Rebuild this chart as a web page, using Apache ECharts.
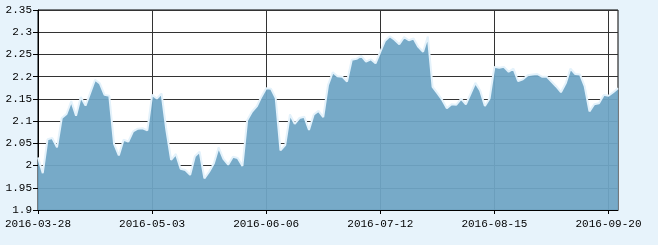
<!DOCTYPE html>
<html>
<head>
<meta charset="utf-8">
<script src="https://cdn.jsdelivr.net/npm/echarts@6/dist/echarts.min.js"></script>
<style>
html,body{margin:0;padding:0;background:#e7f3fb;}
#chart{width:658px;height:245px;}
</style>
</head>
<body>
<div id="chart"></div>
<script>
var dates = [
'2016-03-28','2016-03-29','2016-03-30','2016-03-31','2016-04-01',
'2016-04-05','2016-04-06','2016-04-07','2016-04-08',
'2016-04-11','2016-04-12','2016-04-13','2016-04-14','2016-04-15',
'2016-04-18','2016-04-19','2016-04-20','2016-04-21','2016-04-22',
'2016-04-25','2016-04-26','2016-04-27','2016-04-28','2016-04-29',
'2016-05-03','2016-05-04','2016-05-05','2016-05-06',
'2016-05-09','2016-05-10','2016-05-11','2016-05-12','2016-05-13',
'2016-05-16','2016-05-17','2016-05-18','2016-05-19','2016-05-20',
'2016-05-23','2016-05-24','2016-05-25','2016-05-26','2016-05-27',
'2016-05-30','2016-05-31','2016-06-01','2016-06-02','2016-06-03',
'2016-06-06','2016-06-07','2016-06-08',
'2016-06-13','2016-06-14','2016-06-15','2016-06-16','2016-06-17',
'2016-06-20','2016-06-21','2016-06-22','2016-06-23','2016-06-24',
'2016-06-27','2016-06-28','2016-06-29','2016-06-30','2016-07-01',
'2016-07-04','2016-07-05','2016-07-06','2016-07-07','2016-07-08',
'2016-07-11','2016-07-12','2016-07-13','2016-07-14','2016-07-15',
'2016-07-18','2016-07-19','2016-07-20','2016-07-21','2016-07-22',
'2016-07-25','2016-07-26','2016-07-27','2016-07-28','2016-07-29',
'2016-08-01','2016-08-02','2016-08-03','2016-08-04','2016-08-05',
'2016-08-08','2016-08-09','2016-08-10','2016-08-11','2016-08-12',
'2016-08-15','2016-08-16','2016-08-17','2016-08-18','2016-08-19',
'2016-08-22','2016-08-23','2016-08-24','2016-08-25','2016-08-26',
'2016-08-29','2016-08-30','2016-08-31','2016-09-01','2016-09-02',
'2016-09-05','2016-09-06','2016-09-07','2016-09-08','2016-09-09',
'2016-09-12','2016-09-13','2016-09-14',
'2016-09-19','2016-09-20','2016-09-21','2016-09-22'
];
var values = [
2.018,1.983,2.059,2.062,2.041,
2.107,2.116,2.145,2.112,
2.154,2.135,2.164,2.193,2.185,
2.159,2.157,2.049,2.023,2.058,
2.054,2.077,2.083,2.084,2.079,
2.159,2.151,2.162,2.080,
2.013,2.026,1.993,1.990,1.979,
2.021,2.031,1.971,1.986,2.005,
2.041,2.015,2.002,2.020,2.017,
1.999,2.102,2.121,2.133,2.155,
2.174,2.173,2.152,
2.034,2.046,2.115,2.094,2.107,
2.110,2.080,2.115,2.123,2.109,
2.181,2.210,2.201,2.200,2.189,
2.238,2.240,2.247,2.234,2.239,
2.230,2.256,2.281,2.291,2.283,
2.273,2.289,2.282,2.286,2.267,
2.256,2.290,2.177,2.163,2.148,
2.129,2.138,2.137,2.150,2.138,
2.162,2.186,2.169,2.134,2.151,
2.222,2.220,2.222,2.211,2.218,
2.190,2.194,2.203,2.205,2.206,
2.200,2.200,2.189,2.178,2.165,
2.185,2.218,2.206,2.205,2.178,
2.122,2.138,2.140,
2.159,2.157,2.165,2.174
];
var yMin = 1.9, yMax = 2.35, yStep = 0.05;
var labelEvery = 24;

var chart = echarts.init(document.getElementById('chart'), null, {renderer:'canvas'});
var font = {fontFamily:'Liberation Mono, DejaVu Sans Mono, monospace', fontSize:11, color:'#000'};
chart.setOption({
  backgroundColor:'#e7f3fb',
  animation:false,
  grid:{left:38, right:40, top:10, bottom:35, show:true, backgroundColor:'#fff', borderColor:'#000', borderWidth:1},
  xAxis:{
    type:'category', data:dates, boundaryGap:false,
    axisLine:{lineStyle:{color:'#000', width:1}},
    axisTick:{show:true, interval:labelEvery-1, length:4, lineStyle:{color:'#000'}},
    axisLabel:Object.assign({interval:labelEvery-1, margin:9}, font),
    splitLine:{show:true, interval:labelEvery-1, lineStyle:{color:'#333', width:1}}
  },
  yAxis:{
    type:'value', min:yMin, max:yMax, interval:yStep,
    axisLine:{show:true, lineStyle:{color:'#000', width:1}},
    axisTick:{show:true, length:5, lineStyle:{color:'#000'}},
    axisLabel:Object.assign({margin:6, formatter:function(v){return String(+v.toFixed(2));}}, font),
    splitLine:{show:true, lineStyle:{color:'#333', width:1}}
  },
  series:[{
    type:'line', data:values, symbol:'none', smooth:false,
    lineStyle:{color:'#e4f2fb', width:2},
    areaStyle:{color:'rgb(110,165,197)', opacity:0.94, origin:'start'}
  }]
});
</script>
</body>
</html>
